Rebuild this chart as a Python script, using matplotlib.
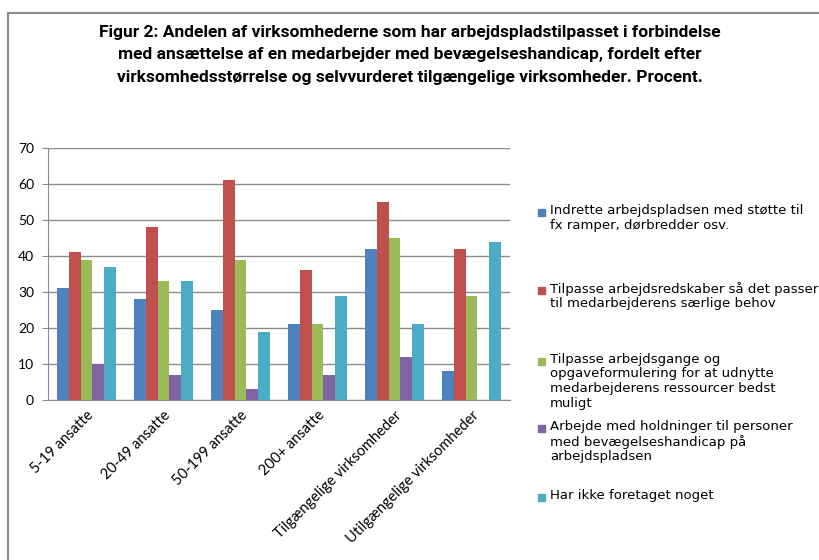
import matplotlib
matplotlib.use("Agg")
import matplotlib.pyplot as plt
import numpy as np
from matplotlib.patches import Rectangle
from matplotlib.lines import Line2D

# data (procent)
categories = ["5-19 ansatte", "20-49 ansatte", "50-199 ansatte", "200+ ansatte",
              "Tilgængelige virksomheder", "Utilgængelige virksomheder"]
indrette = [31, 28, 25, 21, 42, 8]
redskaber = [41, 48, 61, 36, 55, 42]
arbejdsgange = [39, 33, 39, 21, 45, 29]
holdninger = [10, 7, 3, 7, 12, 0]
intet = [37, 33, 19, 29, 21, 44]

series = [indrette, redskaber, arbejdsgange, holdninger, intet]
labels = [
    "Indrette arbejdspladsen med støtte til\nfx ramper, dørbredder osv.",
    "Tilpasse arbejdsredskaber så det passer\ntil medarbejderens særlige behov",
    "Tilpasse arbejdsgange og\nopgaveformulering for at udnytte\nmedarbejderens ressourcer bedst\nmuligt",
    "Arbejde med holdninger til personer\nmed bevægelseshandicap på\narbejdspladsen",
    "Har ikke foretaget noget",
]
colors = ["#4F81BD", "#C0504D", "#9BBB59", "#8064A2", "#4BACC6"]

W, H = 819, 560
fig = plt.figure(figsize=(W / 100, H / 100), dpi=100)
ax = fig.add_axes([48 / W, 1 - 400 / H, 462 / W, 252 / H])

x = np.arange(len(categories))
bw = 0.155
for i, vals in enumerate(series):
    ax.bar(x + (i - 2) * bw, vals, bw, color=colors[i], zorder=3)

ax.set_xlim(-0.5, len(categories) - 0.5)
ax.set_ylim(0, 70)
ax.set_yticks(range(0, 71, 10))
ax.yaxis.grid(True, color="#8C8C8C", lw=1, zorder=0)
for s in ["top", "right"]:
    ax.spines[s].set_visible(False)
ax.spines["left"].set_color("#8C8C8C")
ax.spines["bottom"].set_color("#8C8C8C")
ax.tick_params(axis="y", length=4, color="#8C8C8C", labelsize=10, pad=6)
ax.tick_params(axis="x", length=0, labelsize=10.5, pad=6)
ax.set_xticks(x)
ax.set_xticklabels(categories, rotation=45, ha="right", rotation_mode="anchor",
                   fontfamily="Lato")
for t in ax.get_yticklabels():
    t.set_fontfamily("Lato")

# title
title = ("Figur 2: Andelen af virksomhederne som har arbejdspladstilpasset i forbindelse\n"
         "med ansættelse af en medarbejder med bevægelseshandicap, fordelt efter\n"
         "virksomhedsstørrelse og selvvurderet tilgængelige virksomheder. Procent.")
fig.text(0.5, 1 - 25 / H, title, ha="center", va="top", fontsize=12.5,
         fontweight="bold", linespacing=1.62, family="Roboto")

# legend, fixed slots like the original
tops = [212, 290, 361, 428, 497]
for c, lab, yt in zip(colors, labels, tops):
    fig.patches.append(Rectangle((538 / W, 1 - (yt + 4) / H), 7 / W, 7 / H,
                                 transform=fig.transFigure, color=c))
    fig.text(550 / W, 1 - (yt - 8) / H, lab, ha="left", va="top", fontsize=9.5,
             linespacing=1.15, family="DejaVu Sans")

# outer frame (gray top and left border)
fig.add_artist(Line2D([8 / W, 1], [1 - 13 / H, 1 - 13 / H], color="#8C8C8C", lw=1.5,
                      transform=fig.transFigure))
fig.add_artist(Line2D([8 / W, 8 / W], [0, 1 - 13 / H], color="#8C8C8C", lw=1.5,
                      transform=fig.transFigure))

fig.savefig("out.png", dpi=100)
